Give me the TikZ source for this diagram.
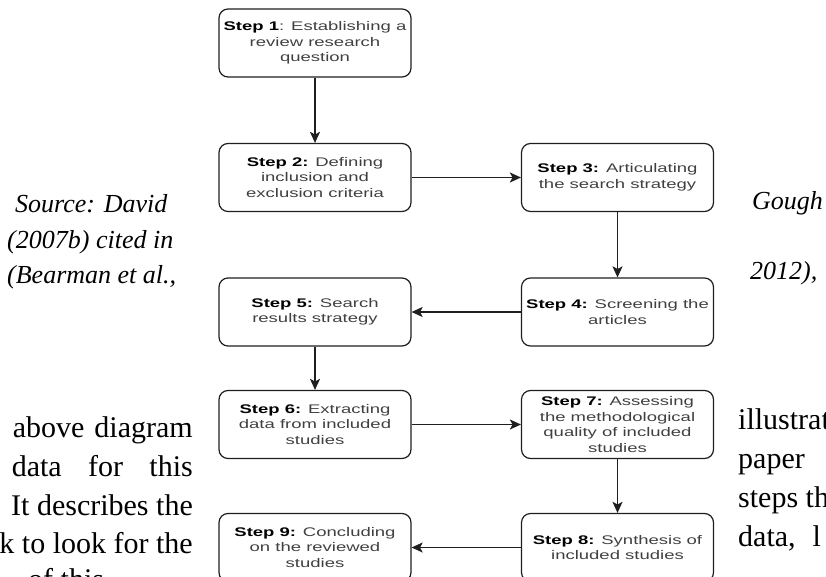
\documentclass[tikz,border=0pt]{standalone}
\usepackage{fontspec}
\setmainfont{Liberation Serif}
\newfontfamily\boxfont[FakeStretch=1.48]{Liberation Sans}
\usetikzlibrary{arrows.meta}
\tikzset{
  stepbox/.style={draw=black!88, line width=1.2pt, rounded corners=9pt,
    minimum width=192pt, minimum height=68pt, inner sep=0pt, align=center,
    text=black!75, font=\boxfont\fontsize{12.5}{15.5}\selectfont},
  flow/.style={draw=black!88, line width=1.2pt, -{Stealth[length=11pt,width=10pt,inset=2.5pt]}},
  bodytext/.style={anchor=base west, inner sep=0pt, font=\fontsize{30}{36}\selectfont},
  captext/.style={anchor=base west, inner sep=0pt, font=\itshape\fontsize{26}{30}\selectfont},
}
\newcommand{\stp}[1]{{\bfseries\color{black}#1}}
\begin{document}
\begin{tikzpicture}[x=1pt,y=-1pt]
\useasboundingbox (0,0) rectangle (826,577);
\clip (0,0) rectangle (826,577);
% flowchart boxes
\node[stepbox] (s1) at (315,43) {\stp{Step 1}: Establishing a\\review research\\question};
\node[stepbox] (s2) at (315,177.5) {\stp{Step 2:} Defining\\inclusion and\\exclusion criteria};
\node[stepbox] (s3) at (617.5,177.5) {\stp{Step 3:} Articulating\\the search strategy};
\node[stepbox] (s4) at (617.5,312) {\stp{Step 4:} Screening the\\articles};
\node[stepbox] (s5) at (315,312) {\stp{Step 5:} Search\\results strategy};
\node[stepbox] (s6) at (315,424.5) {\stp{Step 6:} Extracting\\data from included\\studies};
\node[stepbox] (s7) at (617.5,424.5) {\stp{Step 7:} Assessing\\the methodological\\quality of included\\studies};
\node[stepbox] (s8) at (617.5,547.5) {\stp{Step 8:} Synthesis of\\included studies};
\node[stepbox] (s9) at (315,547.5) {\stp{Step 9:} Concluding\\on the reviewed\\studies};
% connectors
\draw[flow] (s1) -- (s2);
\draw[flow] (s2) -- (s3);
\draw[flow] (s3) -- (s4);
\draw[flow] (s4) -- (s5);
\draw[flow] (s5) -- (s6);
\draw[flow] (s6) -- (s7);
\draw[flow] (s7) -- (s8);
\draw[flow] (s8) -- (s9);
% caption fragments
\node[captext] (c1) at (15,213) {Source: David};
\node[captext] (c2) at (7,248) {(2007b) cited in};
\node[captext] (c3) at (7,283) {(Bearman et al.,};
\node[captext] (c4) at (752,210) {Gough};
\node[captext] (c5) at (750,279) {2012),};
% body text fragments
\node[bodytext, anchor=base east] (l1) at (193,437) {\hbox to 180pt{above\hfill diagram}};
\node[bodytext, anchor=base east] (l2) at (193,476) {\hbox to 181pt{data\hfill for\hfill this}};
\node[bodytext, anchor=base east] (l3) at (193,515) {It describes the};
\node[bodytext, anchor=base east] (l4) at (193,553) {k to look for the};
\node[bodytext] (l5) at (28,589) {of this};
\node[bodytext] (r1) at (738,429) {illustrat};
\node[bodytext] (r2) at (738,468) {paper};
\node[bodytext] (r3) at (738,507) {steps th};
\node[bodytext] (r4) at (738,546) {data,\hspace{17pt}l};
\end{tikzpicture}
\end{document}
